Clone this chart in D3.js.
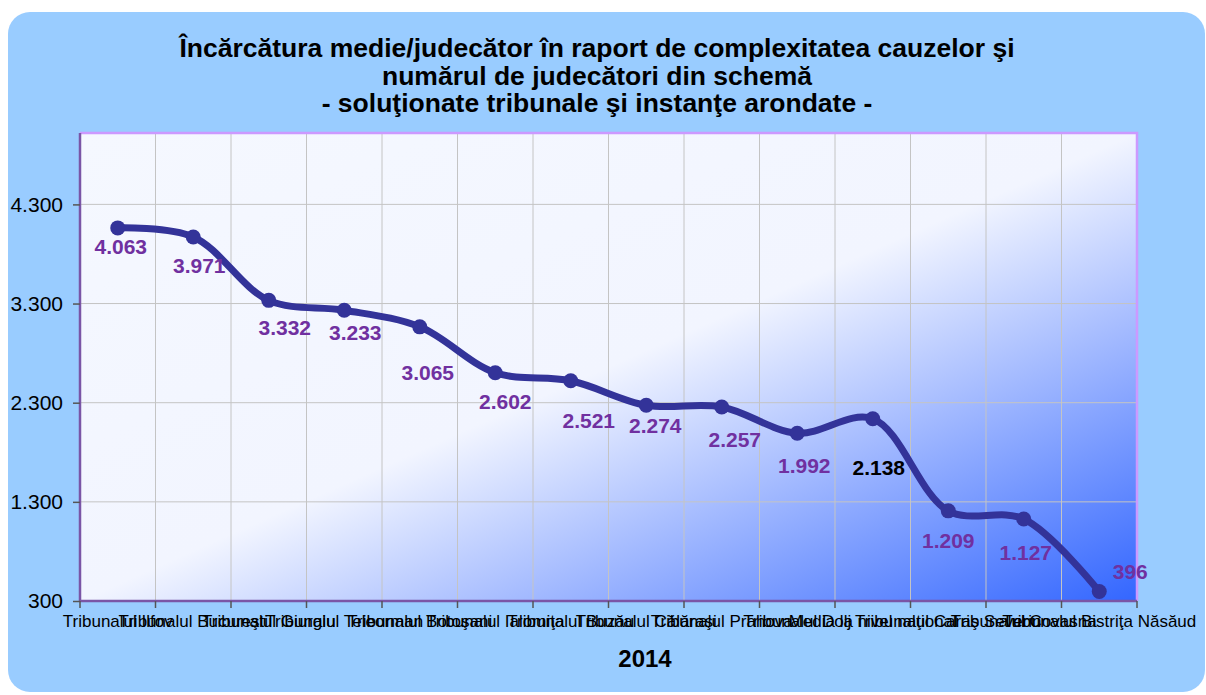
<!DOCTYPE html>
<html><head><meta charset="utf-8">
<script src="https://cdn.jsdelivr.net/npm/d3@7"></script>
<style>body{margin:0;background:#fff}svg{display:block}</style>
</head><body><svg id="c" width="1206" height="695"></svg>
<script>
const categories = ["Tribunalul Ilfov","Tribunalul Bucureşti","Tribunalul Giurgiu","Tribunalul Teleorman","Tribunalul Botoşani","Tribunalul Ialomiţa","Tribunalul Buzău","Tribunalul Călăraşi","Tribunalul Prahova","Tribunalul Dolj","Media la nivel naţional","Tribunalul Caraş Severin","Tribunalul Covasna","Tribunalul Bistriţa Năsăud"];
const values = [4063,3971,3332,3233,3065,2602,2521,2274,2257,1992,2138,1209,1127,396];
const yTicks = [300,1300,2300,3300,4300];
const titleLines = ["Încărcătura medie/judecător în raport de complexitatea cauzelor şi","numărul de judecători din schemă","- soluţionate tribunale şi instanţe arondate -"];
const xTitle = "2014";
// label offsets (dx, dy) relative to each point
const labelOffsets = [[3,26],[6,36],[16,35],[11,30],[8,53],[10,36],[18,47],[9,28],[13,40],[7,40],[6,56],[0,37],[2,41],[31,-12]];

const FONT = "Arial, 'Liberation Sans', sans-serif";
const svg = d3.select("#c");
const fmt = v => d3.format(",")(v).replace(/,/g,".");
svg.append("rect").attr("x",8).attr("y",12).attr("width",1197).attr("height",680).attr("rx",22).attr("fill","#99CCFF");

const m = {l:80, r:1137, t:133, b:601};
const x = d3.scaleBand().domain(categories).range([m.l,m.r]);
const y = d3.scaleLinear().domain([300,5020]).range([m.b,m.t]);

const defs = svg.append("defs");
const g = defs.append("linearGradient").attr("id","pg").attr("x1",0).attr("y1",0).attr("x2",1).attr("y2",1);
g.append("stop").attr("offset","0").attr("stop-color","#F5F8FF");
g.append("stop").attr("offset","0.5").attr("stop-color","#F2F5FF");
g.append("stop").attr("offset","1").attr("stop-color","#3366FF");
svg.append("rect").attr("x",m.l).attr("y",m.t).attr("width",m.r-m.l).attr("height",m.b-m.t).attr("fill","url(#pg)");

// gridlines
svg.append("g").selectAll("line").data(yTicks).join("line")
  .attr("x1",m.l).attr("x2",m.r).attr("y1",d=>y(d)).attr("y2",d=>y(d))
  .attr("stroke","#C4C4C4").attr("stroke-width",1);
svg.append("g").selectAll("line").data(categories.slice(1)).join("line")
  .attr("x1",d=>x(d)).attr("x2",d=>x(d)).attr("y1",m.t).attr("y2",m.b)
  .attr("stroke","#C4C4C4").attr("stroke-width",1);

// top/right border
svg.append("path").attr("d",`M${m.l},${m.t}H${m.r}V${m.b}`).attr("fill","none").attr("stroke","#CC99FF").attr("stroke-width",2.5);

// y axis
const ya = svg.append("g").attr("transform",`translate(${m.l},0)`)
  .call(d3.axisLeft(y).tickValues(yTicks).tickFormat(fmt).tickSize(7).tickPadding(10));
ya.select(".domain").attr("stroke","#7A55A6").attr("stroke-width",2.5).attr("d",`M0,${m.b}V${m.t}`);
ya.selectAll(".tick line").attr("stroke","#555").attr("stroke-width",1.5);
ya.selectAll("text").attr("font-family",FONT).attr("font-size",21).attr("fill","#000");

// x axis
const xa = svg.append("g").attr("transform",`translate(0,${m.b})`)
  .call(d3.axisBottom(x).tickSize(0).tickPadding(14));
xa.select(".domain").attr("stroke","#7A55A6").attr("stroke-width",2.5).attr("d",`M${m.l},0H${m.r}`);
xa.selectAll("text").attr("font-family",FONT).attr("font-size",17).attr("fill","#000");
xa.append("g").selectAll("line").data(categories.concat([null])).join("line")
  .attr("x1",(d,i)=>m.l+i*x.bandwidth()).attr("x2",(d,i)=>m.l+i*x.bandwidth())
  .attr("y1",0).attr("y2",7).attr("stroke","#555").attr("stroke-width",1.5);

// line
const pts = categories.map((c,i)=>[x(c)+x.bandwidth()/2, y(values[i])]);
svg.append("path").attr("d",d3.line().curve(d3.curveCatmullRom.alpha(0.5))(pts))
  .attr("fill","none").attr("stroke","#333399").attr("stroke-width",7).attr("stroke-linecap","round");
svg.append("g").selectAll("circle").data(pts).join("circle")
  .attr("cx",d=>d[0]).attr("cy",d=>d[1]).attr("r",7.5).attr("fill","#333399");

// data labels
svg.append("g").selectAll("text").data(values).join("text")
  .attr("x",(d,i)=>pts[i][0]+labelOffsets[i][0]).attr("y",(d,i)=>pts[i][1]+labelOffsets[i][1])
  .attr("text-anchor","middle").attr("font-family",FONT)
  .attr("font-weight","bold").attr("font-size",21)
  .attr("fill",(d,i)=>categories[i].startsWith("Media")?"#000":"#7030A0")
  .text(fmt);

// title
svg.append("g").selectAll("text").data(titleLines).join("text")
  .attr("x",597).attr("y",(d,i)=>57+i*27.5).attr("text-anchor","middle")
  .attr("font-family",FONT).attr("font-weight","bold").attr("font-size",26.5)
  .attr("fill","#000").text(d=>d);
svg.append("text").attr("x",645).attr("y",667).attr("text-anchor","middle")
  .attr("font-family",FONT).attr("font-weight","bold").attr("font-size",24)
  .text(xTitle);
</script></body></html>
